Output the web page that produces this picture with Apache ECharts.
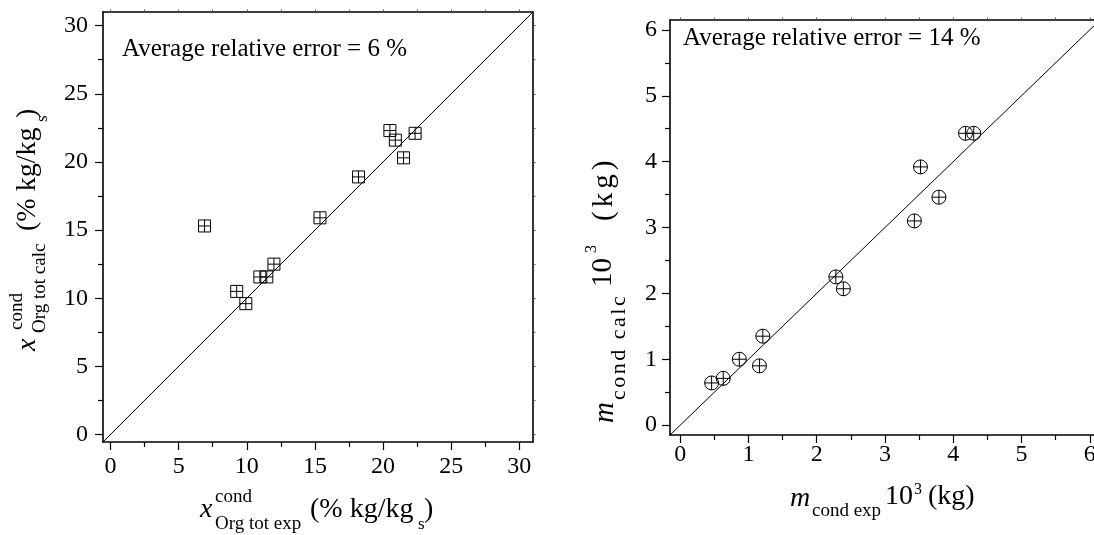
<!DOCTYPE html>
<html>
<head>
<meta charset="utf-8">
<script src="https://cdn.jsdelivr.net/npm/echarts@6/dist/echarts.min.js"></script>
<style>html,body{margin:0;padding:0;background:#fff}#c{width:1094px;height:535px}</style>
</head>
<body>
<div id="c"></div>
<script>
// Left panel: x_Org tot (exp vs calc), % kg/kg_s
const leftExp  = [6.9, 9.26, 9.93, 10.96, 11.47, 11.99, 15.37, 18.2, 20.5, 20.9, 21.5, 22.35];
const leftCalc = [15.3, 10.5, 9.6, 11.56, 11.56, 12.5, 15.9, 18.9, 22.3, 21.6, 20.3, 22.1];
const leftRange = [-0.55, 31];
const leftMajor = [0, 5, 10, 15, 20, 25, 30];
const leftMinor = [2.5, 7.5, 12.5, 17.5, 22.5, 27.5];
const leftText = 'Average relative error = 6 %';

// Right panel: m_cond 10^3 (kg)
const rightExp  = [0.46, 0.63, 0.865, 1.16, 1.21, 2.28, 2.39, 3.43, 3.52, 3.79, 4.18, 4.30];
const rightCalc = [0.64, 0.71, 1.0, 0.90, 1.35, 2.25, 2.07, 3.10, 3.92, 3.46, 4.43, 4.43];
const rightRange = [-0.15, 6.15];
const rightMajor = [0, 1, 2, 3, 4, 5, 6];
const rightMinor = [0.5, 1.5, 2.5, 3.5, 4.5, 5.5];
const rightText = 'Average relative error = 14 %';

const FONT = 'Liberation Serif';
const zip = (a, b) => a.map((v, i) => [v, b[i]]);

function axesFor(grid, range, major, minor, dir, labelMargin) {
  const common = {gridIndex: grid, type: 'value', min: range[0], max: range[1], splitLine: {show: false}};
  const line = {show: true, onZero: false, lineStyle: {color: '#000', width: 1.6}};
  const pos = dir === 'x' ? ['bottom', 'top'] : ['left', 'right'];
  return [
    Object.assign({}, common, {
      position: pos[0], axisLine: line,
      axisTick: {show: true, inside: false, length: 8, customValues: major, lineStyle: {color: '#000', width: 1.2}},
      axisLabel: {show: true, customValues: major, margin: labelMargin, color: '#000', fontFamily: FONT, fontSize: 24}
    }),
    Object.assign({}, common, {
      position: pos[0], axisLine: {show: false, onZero: false},
      axisTick: {show: true, inside: false, length: 5, customValues: minor, lineStyle: {color: '#000', width: 1.2}},
      axisLabel: {show: false}
    }),
    Object.assign({}, common, {
      position: pos[1], axisLine: line,
      axisTick: {show: true, inside: false, length: 2.5, customValues: major.concat(minor), lineStyle: {color: '#555', width: 1}},
      axisLabel: {show: false}
    })
  ];
}

function fontOf(size, italic) { return (italic ? 'italic ' : '') + size + 'px "' + FONT + '"'; }
function txt(t, x, y, size, opts) {
  opts = opts || {};
  return {
    type: 'text', x: x, y: y, rotation: opts.rot || 0, silent: true, z: 100,
    style: {text: t, font: fontOf(size, opts.italic), fill: '#000', align: 'left', verticalAlign: 'middle', textAlign: 'left', textVerticalAlign: 'middle'}
  };
}
// rotated text (reading bottom-to-top) with a little extra letter spacing
const ctx = document.createElement('canvas').getContext('2d');
function spacedUp(t, x, y, size, spacing) {
  ctx.font = fontOf(size, false);
  const out = [];
  let off = 0;
  for (const ch of t) {
    out.push(txt(ch, x, y - off, size, {rot: Math.PI / 2}));
    off += ctx.measureText(ch).width + spacing;
  }
  return out;
}
const R = Math.PI / 2;

const option = {
  animation: false,
  backgroundColor: '#fff',
  grid: [
    {left: 103, top: 12, width: 430, height: 430, outerBoundsMode: 'none', containLabel: false},
    {left: 670, top: 20, width: 430, height: 415, outerBoundsMode: 'none', containLabel: false}
  ],
  xAxis: axesFor(0, leftRange, leftMajor, leftMinor, 'x', 13).concat(axesFor(1, rightRange, rightMajor, rightMinor, 'x', 8)),
  yAxis: axesFor(0, leftRange, leftMajor, leftMinor, 'y', 15).concat(axesFor(1, rightRange, rightMajor, rightMinor, 'y', 13)),
  series: [
    {type: 'line', xAxisIndex: 0, yAxisIndex: 0, data: [[leftRange[0], leftRange[0]], [leftRange[1], leftRange[1]]],
     symbol: 'none', silent: true, lineStyle: {color: '#000', width: 1}, clip: true},
    {type: 'scatter', xAxisIndex: 0, yAxisIndex: 0, data: zip(leftExp, leftCalc),
     symbol: 'path://M0,0H12V12H0ZM6,0V12M0,6H12', symbolSize: 12,
     itemStyle: {color: 'rgba(0,0,0,0)', borderColor: '#000', borderWidth: 1, opacity: 1}, silent: true},
    {type: 'line', xAxisIndex: 3, yAxisIndex: 3, data: [[rightRange[0], rightRange[0]], [rightRange[1], rightRange[1]]],
     symbol: 'none', silent: true, lineStyle: {color: '#000', width: 1}, clip: true},
    {type: 'scatter', xAxisIndex: 3, yAxisIndex: 3, data: zip(rightExp, rightCalc),
     symbol: 'path://M0,7A7,7,0,1,1,14,7A7,7,0,1,1,0,7ZM7,0V14M0,7H14', symbolSize: 14,
     itemStyle: {color: 'rgba(0,0,0,0)', borderColor: '#000', borderWidth: 1, opacity: 1}, silent: true}
  ],
  graphic: [
    txt(leftText, 122, 49.6, 25),
    txt(rightText, 683, 38.6, 25),
    // left x title
    txt('x', 200, 510, 28, {italic: true}),
    txt('cond', 215, 497, 19),
    txt('Org tot exp', 215, 524, 19),
    txt('(% kg/kg', 310, 510, 28),
    txt('s', 418, 525, 17),
    txt(')', 424, 510, 28),
    // left y title (rotated)
    txt('x', 28, 351, 28, {italic: true, rot: R}),
    txt('cond', 17, 330, 19, {rot: R}),
    txt('Org tot calc', 40, 333, 19, {rot: R}),
    txt('(% kg/kg', 28, 231, 28, {rot: R}),
    txt('s', 43, 122, 17, {rot: R}),
    txt(')', 28, 118, 28, {rot: R}),
    // right x title
    txt('m', 790, 498.5, 28, {italic: true}),
    txt('cond exp', 812, 510.6, 19),
    txt('10', 885, 496.5, 28),
    txt('3', 914, 489.6, 16),
    txt('(kg)', 928, 496.5, 28),
    // right y title (rotated)
    txt('m', 605, 423, 29, {italic: true, rot: R}),
    txt('10', 603, 287, 29, {rot: R}),
    txt('3', 592, 253, 16, {rot: R})
  ].concat(spacedUp('cond calc', 619, 400, 22, 2.5), spacedUp('(kg)', 604, 221, 29, 4))
};
echarts.init(document.getElementById('c')).setOption(option);
</script>
</body>
</html>
